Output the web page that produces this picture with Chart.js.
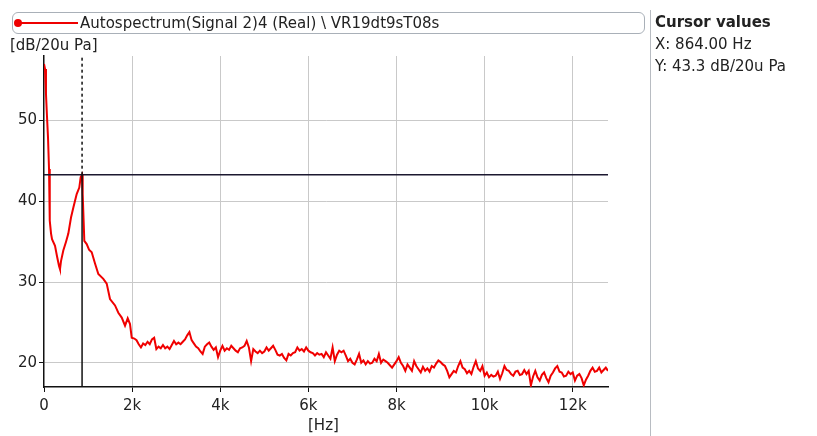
<!DOCTYPE html>
<html>
<head>
<meta charset="utf-8">
<script src="https://cdn.jsdelivr.net/npm/chart.js@4"></script>
<style>
  body { margin: 0; background: #fff; font-family: "DejaVu Sans", Verdana, sans-serif; }
  #wrap { position: relative; width: 817px; height: 436px; overflow: hidden; }
  #chartCanvas { position: absolute; left: 0; top: 0; }
  .legenda { position: absolute; left: 12px; top: 12px; width: 631px; height: 20px; border: 1px solid #a9b0b8; border-radius: 6px; font-size: 15px; line-height: 20px; color: #222; }
  .legenda .linha { position: absolute; left: 4px; top: 9px; width: 61px; height: 2px; background: #e00; }
  .legenda .ponto { position: absolute; left: 1px; top: 6px; width: 8px; height: 8px; border-radius: 50%; background: #e00; }
  .legenda .txt { position: absolute; left: 67px; top: 0; white-space: nowrap; }
  .painel { position: absolute; left: 650px; top: 10px; width: 1px; height: 426px; background: #b8bcc2; }
  .cursor { position: absolute; left: 655px; top: 11px; font-size: 15px; color: #222; line-height: 22px; }
  .cursor b { font-size: 15px; }
  .unid { position: absolute; font-size: 15px; color: #222; white-space: nowrap; }
</style>
</head>
<body>
<div id="wrap">
  <canvas id="chartCanvas" width="817" height="436"></canvas>
  <div class="legenda"><div class="linha"></div><div class="ponto"></div><span class="txt">Autospectrum(Signal 2)4 (Real) \ VR19dt9sT08s</span></div>
  <div class="painel"></div>
  <div class="cursor"><b>Cursor values</b><br>X: 864.00 Hz<br>Y: 43.3 dB/20u Pa</div>
  <div class="unid" style="left:10px;top:36px;">[dB/20u Pa]</div>
  <div class="unid" style="left:308px;top:416px;">[Hz]</div>
</div>
<script>
// frequencias (Hz) e niveis (dB/20u Pa)
const freqs = [
  0, 23, 45, 68, 91, 114, 125, 136, 160, 182, 250, 295, 341, 363, 386, 438, 500, 552, 613, 665, 742, 801, 833, 863,
  878, 915, 969, 1022, 1083, 1158, 1233, 1346, 1423, 1498, 1612, 1687, 1764, 1839, 1900, 1952, 1991,
  2050, 2100, 2150, 2200, 2250, 2300, 2350, 2400, 2450, 2500, 2550, 2600, 2650, 2700, 2750, 2800, 2850, 2900, 2950, 3000,
  3050, 3100, 3150, 3200, 3250, 3300, 3350, 3400, 3450, 3500, 3550, 3600, 3650, 3700, 3750, 3800, 3850, 3900, 3950, 4000,
  4050, 4100, 4150, 4200, 4250, 4300, 4350, 4400, 4450, 4500, 4550, 4600, 4650, 4700, 4750, 4800, 4850, 4900, 4950, 5000,
  5050, 5100, 5150, 5200, 5250, 5300, 5350, 5400, 5450, 5500, 5550, 5600, 5650, 5700, 5750, 5800, 5850, 5900, 5950, 6000,
  6050, 6100, 6150, 6200, 6250, 6300, 6350, 6400, 6450, 6500, 6550, 6600, 6650, 6700, 6750, 6800, 6850, 6900, 6950, 7000,
  7050, 7100, 7150, 7200, 7250, 7300, 7350, 7400, 7450, 7500, 7550, 7600, 7650, 7700, 7750, 7800, 7850, 7900, 7950, 8000,
  8050, 8100, 8150, 8200, 8250, 8300, 8350, 8400, 8450, 8500, 8550, 8600, 8650, 8700, 8750, 8800, 8850, 8900, 8950, 9000,
  9050, 9100, 9150, 9200, 9250, 9300, 9350, 9400, 9450, 9500, 9550, 9600, 9650, 9700, 9750, 9800, 9850, 9900, 9950, 10000,
  10050, 10100, 10150, 10200, 10250, 10300, 10350, 10400, 10450, 10500, 10550, 10600, 10650, 10700, 10750, 10800, 10850, 10900, 10950, 11000,
  11050, 11100, 11150, 11200, 11250, 11300, 11350, 11400, 11450, 11500, 11550, 11600, 11650, 11700, 11750, 11800, 11850, 11900, 11950, 12000,
  12050, 12100, 12150, 12200, 12250, 12300, 12350, 12400, 12450, 12500, 12550, 12600, 12650, 12700, 12750, 12800
];
const niveis = [
  57.0, 56.4, 53.3, 50.5, 47.9, 44.0, 41.3, 37.6, 36.0, 35.3, 34.5, 33.2, 32.0, 31.6, 32.6, 33.9, 35.0, 36.0, 38.0, 39.2, 40.9, 41.7, 43.0, 43.3,
  40.9, 35.1, 34.7, 34.0, 33.7, 32.3, 31.0, 30.4, 29.8, 27.9, 27.1, 26.2, 25.6, 24.6, 25.5, 24.8, 23.1,
  23.0, 22.8, 22.3, 21.9, 22.4, 22.2, 22.6, 22.3, 22.9, 23.1, 21.7, 22.0, 21.8, 22.2, 21.8, 22.0, 21.7, 22.2, 22.7, 22.3,
  22.5, 22.3, 22.6, 22.9, 23.4, 23.8, 22.8, 22.4, 22.0, 21.8, 21.4, 21.1, 22.0, 22.3, 22.5, 22.0, 21.6, 21.9, 20.7, 21.5,
  22.1, 21.5, 21.8, 21.6, 22.1, 21.8, 21.5, 21.3, 21.8, 21.9, 22.1, 22.7, 21.9, 20.2, 21.7, 21.4, 21.2, 21.5, 21.2, 21.4,
  21.9, 21.5, 21.8, 22.1, 21.6, 21.0, 20.9, 21.1, 20.6, 20.3, 21.1, 20.9, 21.2, 21.3, 21.9, 21.5, 21.7, 21.4, 21.9, 21.5,
  21.3, 21.2, 20.9, 21.2, 21.0, 21.1, 20.7, 21.3, 20.9, 20.5, 21.9, 20.2, 21.0, 21.5, 21.3, 21.5, 20.9, 20.2, 20.5, 20.0,
  19.8, 20.4, 21.1, 20.0, 20.3, 19.8, 20.2, 19.9, 20.0, 20.5, 20.2, 21.1, 20.0, 20.4, 20.2, 20.0, 19.7, 19.4, 19.8, 20.2,
  20.7, 20.0, 19.6, 19.0, 19.8, 19.4, 19.0, 20.2, 19.6, 19.2, 18.8, 19.5, 19.0, 19.3, 18.9, 19.6, 19.4, 19.9, 20.3, 20.1,
  19.8, 19.6, 19.0, 18.2, 18.6, 19.0, 18.8, 19.6, 20.2, 19.4, 19.2, 18.7, 19.0, 18.6, 19.5, 20.2, 19.3, 19.0, 19.6, 18.4,
  18.8, 18.2, 18.5, 18.3, 18.4, 18.9, 18.0, 18.7, 19.6, 19.1, 19.0, 18.6, 18.4, 18.9, 19.0, 18.5, 18.6, 19.1, 18.6, 19.0,
  17.2, 18.3, 19.0, 18.2, 17.8, 18.5, 18.8, 18.1, 17.6, 18.4, 18.8, 19.3, 19.6, 18.9, 18.8, 18.3, 18.4, 18.9, 18.6, 18.8,
  17.8, 18.4, 18.6, 18.1, 17.2, 17.9, 18.4, 19.0, 19.4, 18.9, 19.0, 19.4, 18.8, 19.1, 19.4, 19.0
];
const xTicks = [0, 2000, 4000, 6000, 8000, 10000, 12000];
const xTickLabels = ["0", "2k", "4k", "6k", "8k", "10k", "12k"];
const yTicks = [20, 30, 40, 50];
const cursorX = 864;
const cursorY = 43.3;

const FONTE = { family: "'DejaVu Sans', Verdana, sans-serif", size: 15 };

const cursorPlugin = {
  id: "cursor",
  afterDatasetsDraw(chart) {
    const ctx = chart.ctx, a = chart.chartArea;
    const px = chart.scales.x.getPixelForValue(cursorX);
    const py = chart.scales.y.getPixelForValue(cursorY);
    ctx.save();
    ctx.lineWidth = 1.5;
    ctx.strokeStyle = "#1c1830";
    ctx.beginPath(); ctx.moveTo(a.left, py); ctx.lineTo(a.right, py); ctx.stroke();
    ctx.strokeStyle = "#111";
    ctx.beginPath(); ctx.moveTo(px, a.bottom); ctx.lineTo(px, py); ctx.stroke();
    ctx.setLineDash([3, 3]);
    ctx.beginPath(); ctx.moveTo(px, py); ctx.lineTo(px, a.top); ctx.stroke();
    ctx.restore();
  }
};

let chart = new Chart(document.getElementById("chartCanvas"), {
  type: "line",
  data: {
    datasets: [{
      data: freqs.map(function(f, i) { return { x: f, y: niveis[i] }; }),
      borderColor: "#f00000", borderWidth: 2, pointRadius: 0, tension: 0
    }]
  },
  options: {
    responsive: false, animation: false,
    layout: { padding: { left: 0, top: 56, right: 209, bottom: 0 } },
    plugins: { legend: { display: false }, tooltip: { enabled: false } },
    scales: {
      x: {
        type: "linear", min: 0, max: 12800,
        afterFit: function(s) { s.height = 49; },
        afterBuildTicks: function(s) { s.ticks = xTicks.map(function(v) { return { value: v }; }); },
        grid: { color: function(c) { return c.tick.value === 0 ? "rgba(0,0,0,0)" : "#c9c9c9"; }, tickColor: "#111", tickLength: 5 },
        border: { color: "#111", width: 1.5 },
        ticks: { color: "#222", font: FONTE, padding: 5, maxRotation: 0,
          callback: function(v) { return xTickLabels[xTicks.indexOf(v)]; } }
      },
      y: {
        min: 17, max: 58,
        afterFit: function(s) { s.width = 44; },
        afterBuildTicks: function(s) { s.ticks = yTicks.map(function(v) { return { value: v }; }); },
        grid: { color: "#c9c9c9", tickColor: "#111", tickLength: 5 },
        border: { color: "#111", width: 1.5 },
        ticks: { color: "#222", font: FONTE, padding: 2 }
      }
    }
  },
  plugins: [cursorPlugin]
});
</script>
</body>
</html>
